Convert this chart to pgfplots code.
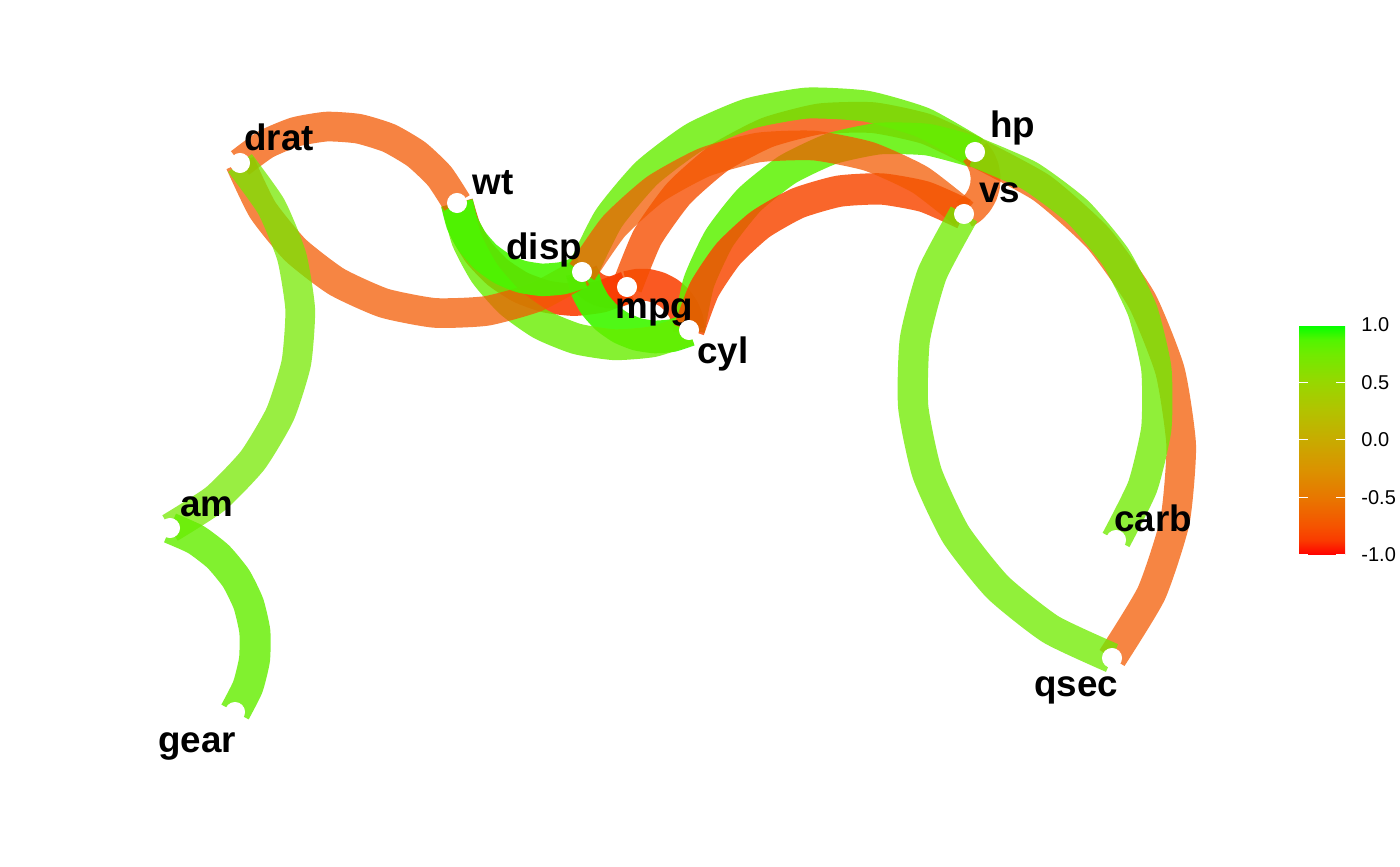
\documentclass[border=0pt]{standalone}
\usepackage{fontspec}
\setmainfont{Liberation Sans}
\usepackage{pgfplots}
\pgfplotsset{compat=1.18}

% edge colours: correlation r on a Lab red-green scale
\definecolor{mpgcyl}{RGB}{249,63,0}
\definecolor{mpgdisp}{RGB}{249,64,0}
\definecolor{mpghp}{RGB}{246,78,0}
\definecolor{mpgwt}{RGB}{250,59,0}
\definecolor{cyldisp}{RGB}{64,247,0}
\definecolor{cylhp}{RGB}{92,242,0}
\definecolor{cylwt}{RGB}{104,238,0}
\definecolor{cylvs}{RGB}{248,71,0}
\definecolor{disphp}{RGB}{102,238,0}
\definecolor{dispdrat}{RGB}{243,89,0}
\definecolor{dispwt}{RGB}{73,246,0}
\definecolor{dispvs}{RGB}{243,89,0}
\definecolor{hpqsec}{RGB}{243,89,0}
\definecolor{hpvs}{RGB}{244,87,0}
\definecolor{hpcarb}{RGB}{112,235,0}
\definecolor{dratwt}{RGB}{243,88,0}
\definecolor{dratam}{RGB}{118,232,0}
\definecolor{qsecvs}{RGB}{113,235,0}
\definecolor{amgear}{RGB}{101,238,0}

\tikzset{lbl/.style={font=\fontsize{18.4}{20}\selectfont\bfseries, anchor=base west, inner sep=0pt, text=black}}
\pgfplotsset{edge/.style={smooth, tension=0.34, no markers, line cap=butt}}

\begin{document}
\begin{tikzpicture}
\useasboundingbox (0,0) rectangle (700pt,433pt);
\begin{axis}[
  at={(0pt,0pt)}, anchor=south west,
  width=700pt, height=433pt, scale only axis,
  xmin=0, xmax=1400, ymin=0, ymax=866, y dir=reverse,
  hide axis, clip=false,
  colorbar,
  colorbar/width=23pt,
  colorbar shift/.style={},
  colormap={rg}{rgb255(0cm)=(255,0,0) rgb255(1cm)=(250,58,0) rgb255(2cm)=(245,83,0)
    rgb255(4cm)=(232,119,0) rgb255(6cm)=(218,147,0) rgb255(8cm)=(200,171,0)
    rgb255(10cm)=(179,194,0) rgb255(12cm)=(152,215,0) rgb255(14cm)=(112,235,0)
    rgb255(15cm)=(81,245,0) rgb255(16cm)=(0,255,0)},
  point meta min=-1, point meta max=1,
  colorbar style={
    at={(649.5pt,155.5pt)}, anchor=south west,
    scale only axis, width=23pt, height=115pt,
    y dir=normal, hide x axis=false, hide y axis=false,
    axis line style={draw=none},
    xtick=\empty,
    ytick={-1,-0.5,0,0.5,1},
    yticklabels={-1.0,-0.5,0.0,0.5,1.0},
    ytick pos=both, yticklabel pos=right,
    tick align=inside, major tick length=4.4pt,
    major tick style={draw=white, line width=0.5pt},
    yticklabel style={font=\fontsize{10}{12}\selectfont, inner sep=0pt, xshift=8pt, text=black},
  },
]

% correlation paths (|r| >= 0.7), start -> end, bending to the left of travel
\addplot[edge, draw=mpgcyl, draw opacity=0.867, line width=5.615mm] coordinates {
  (627,287) (637.7,284.8) (648.6,285.1) (659.1,287.9) (668.75,293) (676.9,300.2) (683.2,309.1) (687.3,319.2) (689,330)};
\addplot[edge, draw=mpgdisp, draw opacity=0.863, line width=5.604mm] coordinates {
  (627,287) (620.9,290.2) (614.3,292.0) (607.5,292.2) (600.75,290.75) (594.5,287.9) (589.2,283.6) (584.9,278.2) (582,272)};
\addplot[edge, draw=mpghp, draw opacity=0.798, line width=5.405mm] coordinates {
  (627,287) (647.5,237.1) (678.9,193.2) (719.5,157.7) (767.25,132.5) (819.5,118.9) (873.4,117.7) (926.2,129.0) (975,152)};
\addplot[edge, draw=mpgwt, draw opacity=0.881, line width=5.658mm] coordinates {
  (627,287) (601.3,296.5) (574.1,299.8) (546.8,296.7) (521,287.5) (498.0,272.6) (479.0,252.8) (465.1,229.2) (457,203)};
\addplot[edge, draw=cyldisp, draw opacity=0.912, line width=5.749mm] coordinates {
  (689,330) (672.3,335.5) (654.7,336.9) (637.3,334.3) (621,327.75) (606.6,317.6) (594.9,304.5) (586.6,289.0) (582,272)};
\addplot[edge, draw=cylhp, draw opacity=0.849, line width=5.561mm] coordinates {
  (689,330) (698.8,282.3) (719.3,238.1) (749.4,199.8) (787.5,169.5) (831.5,148.7) (879.2,138.6) (927.9,139.7) (975,152)};
\addplot[edge, draw=cylwt, draw opacity=0.804, line width=5.422mm] coordinates {
  (689,330) (652.6,341.7) (614.5,344.7) (576.7,338.9) (541.25,324.5) (510.1,302.4) (484.8,273.7) (466.8,240.0) (457,203)};
\addplot[edge, draw=cylvs, draw opacity=0.830, line width=5.503mm] coordinates {
  (689,330) (704.2,289.6) (728.3,253.8) (760.0,224.5) (797.5,203.25) (838.9,191.2) (882.0,189.0) (924.5,196.7) (964,214)};
\addplot[edge, draw=disphp, draw opacity=0.812, line width=5.447mm] coordinates {
  (582,272) (608.5,218.8) (646.6,173.2) (694.1,137.5) (748.5,113.75) (806.9,103.1) (866.3,106.2) (923.3,122.7) (975,152)};
\addplot[edge, draw=dispdrat, draw opacity=0.739, line width=5.213mm] coordinates {
  (582,272) (536.5,297.0) (486.5,310.9) (434.7,312.9) (383.75,303) (336.5,281.6) (295.4,250.0) (262.6,209.7) (240,163)};
\addplot[edge, draw=dispwt, draw opacity=0.899, line width=5.712mm] coordinates {
  (582,272) (562.3,278.2) (541.7,279.8) (521.3,276.6) (502.25,268.75) (485.5,256.8) (471.9,241.2) (462.2,223.0) (457,203)};
\addplot[edge, draw=dispvs, draw opacity=0.739, line width=5.213mm] coordinates {
  (582,272) (614.0,226.2) (655.6,188.9) (704.6,162.2) (758.5,147.5) (814.3,145.6) (869.1,156.5) (919.9,179.7) (964,214)};
\addplot[edge, draw=hpqsec, draw opacity=0.737, line width=5.207mm] coordinates {
  (975,152) (1041.7,188.0) (1098.3,238.4) (1141.9,300.4) (1170,370.75) (1181.2,445.7) (1174.9,521.2) (1151.4,593.3) (1112,658)};
\addplot[edge, draw=hpvs, draw opacity=0.751, line width=5.251mm] coordinates {
  (975,152) (980.4,159.3) (984.0,167.7) (985.5,176.7) (985,185.75) (982.4,194.5) (977.8,202.4) (971.6,209.0) (964,214)};
\addplot[edge, draw=hpcarb, draw opacity=0.775, line width=5.330mm] coordinates {
  (975,152) (1029.7,175.9) (1077.5,211.6) (1115.8,257.4) (1142.5,310.75) (1156.3,368.8) (1156.3,428.5) (1142.6,486.6) (1116,540)};
\addplot[edge, draw=dratwt, draw opacity=0.741, line width=5.219mm] coordinates {
  (240,163) (265.8,144.2) (295.2,131.9) (326.7,126.6) (358.5,128.75) (389.0,138.1) (416.5,154.3) (439.6,176.3) (457,203)};
\addplot[edge, draw=dratam, draw opacity=0.742, line width=5.222mm] coordinates {
  (240,163) (271.3,206.7) (291.7,256.4) (300.2,309.4) (296.25,363) (280.1,414.2) (252.6,460.4) (215.2,499.0) (170,528)};
\addplot[edge, draw=qsecvs, draw opacity=0.771, line width=5.316mm] coordinates {
  (1112,658) (1050.7,629.3) (997.7,587.3) (955.7,534.3) (927,473) (913.2,406.8) (914.9,339.1) (932.2,273.7) (964,214)};
\addplot[edge, draw=amgear, draw opacity=0.815, line width=5.455mm] coordinates {
  (170,528) (195.8,539.5) (218.2,556.6) (236.1,578.4) (248.5,603.75) (254.8,631.3) (254.5,659.5) (247.8,686.9) (235,712)};

% variables
\addplot[only marks, mark=*, mark size=4.8pt, mark options={draw=white, fill=white}] coordinates {
  (240,163) (457,203) (582,272) (627,287) (689,330) (975,152)
  (964,214) (1116,540) (1112,658) (170,528) (235,712)};

\node[lbl] at (axis cs:244,151) {drat};
\node[lbl] at (axis cs:472,195) {wt};
\node[lbl] at (axis cs:506,260) {disp};
\node[lbl] at (axis cs:615,319) {mpg};
\node[lbl] at (axis cs:697,363) {cyl};
\node[lbl] at (axis cs:990,138) {hp};
\node[lbl] at (axis cs:979,203) {vs};
\node[lbl] at (axis cs:1114,531) {carb};
\node[lbl] at (axis cs:1034,696) {qsec};
\node[lbl] at (axis cs:180,516) {am};
\node[lbl] at (axis cs:158,752) {gear};
\end{axis}
\end{tikzpicture}
\end{document}
